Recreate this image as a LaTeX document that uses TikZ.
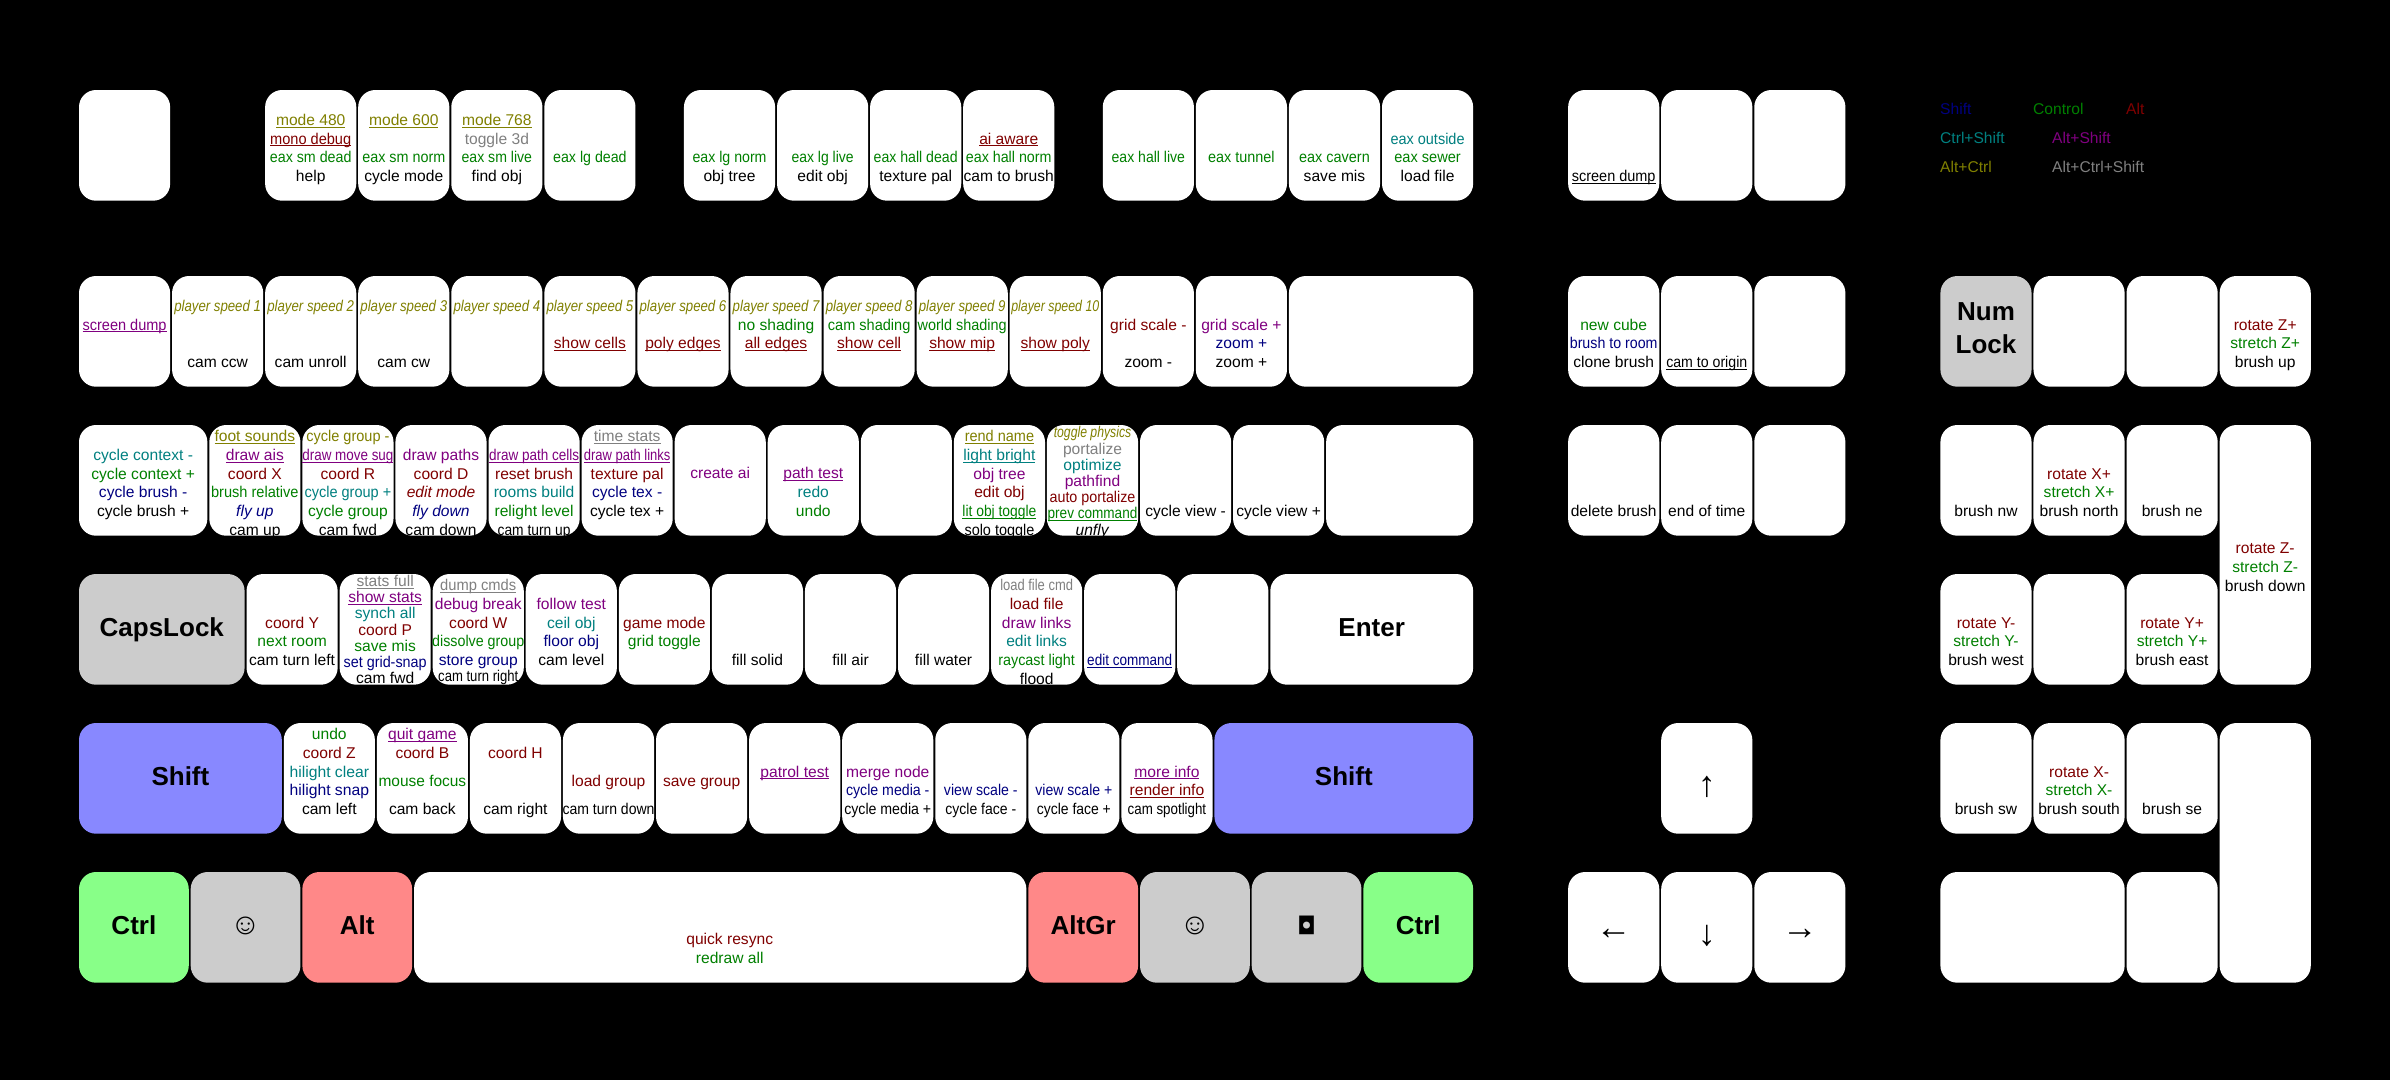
\documentclass[tikz,border=0pt]{standalone}
\usepackage{graphicx}
\usepackage{fontspec}
\setmainfont{Liberation Sans}
\newfontfamily\symfont{DejaVu Sans}
\usetikzlibrary{positioning}

\definecolor{keygray}{HTML}{CCCCCC}
\definecolor{keyblue}{HTML}{8888FF}
\definecolor{keygreen}{HTML}{88FF88}
\definecolor{keyred}{HTML}{FF8888}
\definecolor{navyc}{HTML}{000080}
\definecolor{greenc}{HTML}{008000}
\definecolor{maroonc}{HTML}{800000}
\definecolor{tealc}{HTML}{008080}
\definecolor{purplec}{HTML}{800080}
\definecolor{olivec}{HTML}{808000}
\definecolor{grayc}{HTML}{808080}

\newcommand{\sft}[1]{\textcolor{navyc}{#1}}
\newcommand{\ctl}[1]{\textcolor{greenc}{#1}}
\newcommand{\alt}[1]{\textcolor{maroonc}{#1}}
\newcommand{\cts}[1]{\textcolor{tealc}{#1}}
\newcommand{\als}[1]{\textcolor{purplec}{#1}}
\newcommand{\alc}[1]{\textcolor{olivec}{#1}}
\newcommand{\acs}[1]{\textcolor{grayc}{#1}}
\newcommand{\lnk}[1]{\underbar{#1}}
\newcommand{\tw}[2]{\resizebox{#1pt}{\height}{#2}}
\newcommand{\keyfont}{\fontsize{15.6}{18.7}\selectfont}
\newcommand{\bigfont}{\fontsize{26}{33}\selectfont\bfseries}
\newcommand{\arrowfont}{\fontsize{36}{36}\selectfont}
\newcommand{\smiley}{\fontsize{30}{33}\selectfont\mdseries ☺}
\newcommand{\menusym}{\fontsize{24}{33}\selectfont\mdseries\symfont ◘}
% first line centre, counted from the top of the key
\newcommand{\kt}[3][18.7pt]{\makebox[0pt]{\parbox[c][110.7pt][t]{130pt}{\fontsize{15.6}{#1}\selectfont\lineskiplimit=-100pt\centering\vspace*{\dimexpr#2pt-6.5pt\relax}\leavevmode\rule{0pt}{12pt}#3}}}

\begin{document}
\begin{tikzpicture}[
    x=1pt, y=-1pt,
    node distance=38.3pt and 1.93pt,
    key/.style={rectangle, fill=white, rounded corners=17pt, inner sep=0pt, outer sep=0pt, minimum height=110.7pt, minimum width=#1*93.07pt-1.93pt, align=center, font=\keyfont},
    key/.default=1,
    bigkey/.style={key=#1, font=\bigfont, text height=20pt, text depth=5.6pt},
    graykey/.style={bigkey=#1, fill=keygray},
    shiftkey/.style={bigkey=#1, fill=keyblue},
    ctrlkey/.style={bigkey=#1, fill=keygreen},
    altkey/.style={bigkey=#1, fill=keyred},
    arrowkey/.style={key, font=\arrowfont, text height=#1, text depth=7pt},
    rowstart/.style={anchor=north west},
    legend/.style={anchor=west, inner sep=0pt, font=\keyfont}
  ]
    \fill[black] (0,0) rectangle (2390,1080);
    \useasboundingbox (0,0) rectangle (2390,1080);

    % Function row
    \node[key, rowstart] (esc) at (79,90) {};
    \node[key, right=95pt of esc] (f1) {\kt{30}{\alc{\lnk{mode 480}}\\\alt{\lnk{\tw{81}{mono debug}}}\\\ctl{\tw{81.6}{eax sm dead}}\\help}};
    \node[key, right=of f1] (f2) {\kt{30}{\alc{\lnk{mode 600}}\\[18.7pt]\ctl{\tw{83}{eax sm norm}}\\cycle mode}};
    \node[key, right=of f2] (f3) {\kt{30}{\alc{\lnk{mode 768}}\\\acs{toggle 3d}\\\ctl{\tw{70.4}{eax sm live}}\\find obj}};
    \node[key, right=of f3] (f4) {\kt{67}{\ctl{\tw{73.5}{eax lg dead}}}};
    \node[key, right=48.47pt of f4] (f5) {\kt{67}{\ctl{\tw{74}{eax lg norm}}\\obj tree}};
    \node[key, right=of f5] (f6) {\kt{67}{\ctl{\tw{62}{eax lg live}}\\edit obj}};
    \node[key, right=of f6] (f7) {\kt{67}{\ctl{\tw{84}{eax hall dead}}\\texture pal}};
    \node[key, right=of f7] (f8) {\kt{48.7}{\alt{\lnk{ai aware}}\\\ctl{\tw{85.7}{eax hall norm}}\\cam to brush}};
    \node[key, right=48.47pt of f8] (f9) {\kt{67}{\ctl{\tw{73.4}{eax hall live}}}};
    \node[key, right=of f9] (f10) {\kt{67}{\ctl{\tw{66.4}{eax tunnel}}}};
    \node[key, right=of f10] (f11) {\kt{67}{\ctl{\tw{70.7}{eax cavern}}\\save mis}};
    \node[key, right=of f11] (f12) {\kt{48.7}{\cts{\tw{74}{eax outside}}\\\ctl{\tw{66.4}{eax sewer}}\\load file}};

    % Number row
    \node[key, below=75.3pt of esc] (tilde) {\kt{48.7}{\als{\lnk{\tw{84}{screen dump}}}}};
    \node[key, right=of tilde] (k1) {\kt{30}{\alc{\textit{\tw{86.7}{player speed 1}}}\\[37.4pt]cam ccw}};
    \node[key, right=of k1] (k2) {\kt{30}{\alc{\textit{\tw{86.7}{player speed 2}}}\\[37.4pt]cam unroll}};
    \node[key, right=of k2] (k3) {\kt{30}{\alc{\textit{\tw{86.7}{player speed 3}}}\\[37.4pt]cam cw}};
    \node[key, right=of k3] (k4) {\kt{30}{\alc{\textit{\tw{86.7}{player speed 4}}}}};
    \node[key, right=of k4] (k5) {\kt{30}{\alc{\textit{\tw{86.7}{player speed 5}}}\\[18.7pt]\alt{\lnk{show cells}}}};
    \node[key, right=of k5] (k6) {\kt{30}{\alc{\textit{\tw{86.7}{player speed 6}}}\\[18.7pt]\alt{\lnk{poly edges}}}};
    \node[key, right=of k6] (k7) {\kt{30}{\alc{\textit{\tw{86.7}{player speed 7}}}\\\ctl{no shading}\\\alt{\lnk{all edges}}}};
    \node[key, right=of k7] (k8) {\kt{30}{\alc{\textit{\tw{86.7}{player speed 8}}}\\\ctl{\tw{82.5}{cam shading}}\\\alt{\lnk{show cell}}}};
    \node[key, right=of k8] (k9) {\kt{30}{\alc{\textit{\tw{86.7}{player speed 9}}}\\\ctl{\tw{89}{world shading}}\\\alt{\lnk{show mip}}}};
    \node[key, right=of k9] (k0) {\kt{30}{\alc{\textit{\tw{88}{player speed 10}}}\\[18.7pt]\alt{\lnk{show poly}}}};
    \node[key, right=of k0] (minus) {\kt{48.7}{\alt{grid scale -}\\[18.7pt]zoom -}};
    \node[key, right=of minus] (equal) {\kt{48.7}{\als{grid scale +}\\\sft{zoom +}\\zoom +}};
    \node[key=2, right=of equal] (bksp) {};

    % QWERTY row
    \node[key=1.4, below=of tilde.south west, rowstart] (tab) {\kt{30}{\cts{cycle context -}\\\ctl{cycle context +}\\\sft{cycle brush -}\\cycle brush +}};
    \node[key, right=of tab] (kq) {\kt{11.3}{\alc{\lnk{foot sounds}}\\\als{\lnk{draw ais}}\\\alt{coord X}\\\ctl{\tw{87.5}{brush relative}}\\\sft{\textit{fly up}}\\cam up}};
    \node[key, right=of kq] (kw) {\kt{11.3}{\alc{\tw{83}{cycle group -}}\\\als{\lnk{\tw{91}{draw move sug}}}\\\alt{coord R}\\\cts{\tw{86.6}{cycle group +}}\\\ctl{cycle group}\\cam fwd}};
    \node[key, right=of kw] (ke) {\kt{30}{\als{draw paths}\\\alt{coord D}\\\alt{\textit{edit mode}}\\\sft{\textit{fly down}}\\cam down}};
    \node[key, right=of ke] (kr) {\kt{30}{\als{\lnk{\tw{90}{draw path cells}}}\\\alt{reset brush}\\\cts{rooms build}\\\ctl{relight level}\\\tw{72.8}{cam turn up}}};
    \node[key, right=of kr] (kt) {\kt{11.3}{\acs{\lnk{time stats}}\\\als{\lnk{\tw{86.6}{draw path links}}}\\\alt{texture pal}\\\sft{cycle tex -}\\cycle tex +}};
    \node[key, right=of kt] (ky) {\kt{48.3}{\als{create ai}}};
    \node[key, right=of ky] (ku) {\kt{48.3}{\als{\lnk{path test}}\\\cts{redo}\\\ctl{undo}}};
    \node[key, right=of ku] (ki) {};
    \node[key, right=of ki] (ko) {\kt{11.3}{\alc{\lnk{\tw{69.3}{rend name}}}\\\cts{\lnk{light bright}}\\\als{obj tree}\\\alt{edit obj}\\\ctl{\lnk{\tw{74}{lit obj toggle}}}\\\tw{69.8}{solo toggle}}};
    \node[key, right=of ko] (kp) {\kt[16.2pt]{7.3}{\alc{\textit{\tw{77.5}{toggle physics}}}\\\acs{portalize}\\\cts{optimize}\\\als{pathfind}\\\alt{\tw{85.8}{auto portalize}}\\\ctl{\lnk{\tw{89.7}{prev command}}}\\\textit{unfly}}};
    \node[key, right=of kp] (lbrk) {\kt{86}{cycle view -}};
    \node[key, right=of lbrk] (rbrk) {\kt{86}{cycle view +}};
    \node[key=1.6, right=of rbrk] (bslash) {};

    % Home row
    \node[graykey=1.8, below=of tab.south west, rowstart] (caps) {CapsLock};
    \node[key, right=of caps] (ka) {\kt{48.7}{\alt{coord Y}\\\ctl{next room}\\cam turn left}};
    \node[key, right=of ka] (ks) {\kt[16.2pt]{7}{\acs{\lnk{stats full}}\\\als{\lnk{show stats}}\\\cts{synch all}\\\alt{coord P}\\\ctl{save mis}\\\sft{\tw{83}{set grid-snap}}\\cam fwd}};
    \node[key, right=of ks] (kd) {\kt{11.3}{\acs{\lnk{\tw{76}{dump cmds}}}\\\als{debug break}\\\alt{coord W}\\\ctl{\tw{92}{dissolve group}}\\\sft{store group}\\[-2.7pt]\tw{80}{cam turn right}}};
    \node[key, right=of kd] (kf) {\kt{30}{\als{follow test}\\\cts{ceil obj}\\\sft{floor obj}\\cam level}};
    \node[key, right=of kf] (kg) {\kt{48.7}{\alt{game mode}\\\ctl{grid toggle}}};
    \node[key, right=of kg] (kh) {\kt{86}{fill solid}};
    \node[key, right=of kh] (kj) {\kt{86}{fill air}};
    \node[key, right=of kj] (kk) {\kt{86}{fill water}};
    \node[key, right=of kk] (kl) {\kt{11.3}{\acs{\tw{72.7}{load file cmd}}\\\alt{load file}\\\als{draw links}\\\cts{edit links}\\\ctl{\tw{76.6}{raycast light}}\\flood}};
    \node[key, right=of kl] (semi) {\kt{86}{\sft{\lnk{\tw{85}{edit command}}}}};
    \node[key, right=of semi] (quote) {};
    \node[bigkey=2.2, right=of quote] (enter) {Enter};

    % Bottom letter row
    \node[shiftkey=2.2, below=of caps.south west, rowstart] (lshift) {Shift};
    \node[key, right=of lshift] (kz) {\kt{11.3}{\ctl{undo}\\\alt{coord Z}\\\cts{\tw{79.5}{hilight clear}}\\\sft{\tw{79.5}{hilight snap}}\\cam left}};
    \node[key, right=of kz] (kx) {\kt{11.3}{\als{\lnk{quit game}}\\\alt{coord B}\\[9.3pt]\ctl{\tw{87.7}{mouse focus}}\\[9.3pt]cam back}};
    \node[key, right=of kx] (kc) {\kt{30}{\alt{coord H}\\[37.4pt]cam right}};
    \node[key, right=of kc] (kv) {\kt{58}{\alt{load group}\\[9.3pt]\tw{92}{cam turn down}}};
    \node[key, right=of kv] (kb) {\kt{58}{\alt{save group}}};
    \node[key, right=of kb] (kn) {\kt{48.7}{\als{\lnk{patrol test}}}};
    \node[key, right=of kn] (km) {\kt{48.7}{\als{merge node}\\\sft{\tw{83.4}{cycle media -}}\\\tw{87}{cycle media +}}};
    \node[key, right=of km] (comma) {\kt{67}{\sft{\tw{73.7}{view scale -}}\\\tw{70.8}{cycle face -}}};
    \node[key, right=of comma] (period) {\kt{67}{\sft{\tw{77}{view scale +}}\\\tw{74}{cycle face +}}};
    \node[key, right=of period] (slash) {\kt{48.7}{\als{\lnk{more info}}\\\alt{\lnk{render info}}\\\tw{78.5}{cam spotlight}}};
    \node[shiftkey=2.8, right=of slash] (rshift) {Shift};

    % Space row
    \node[ctrlkey=1.2, below=of lshift.south west, rowstart] (lctrl) {Ctrl};
    \node[graykey=1.2, right=of lctrl] (lwin) {\smiley};
    \node[altkey=1.2, right=of lwin] (lalt) {Alt};
    \node[key=6.6, right=of lalt] (space) {\kt{67.3}{\hspace*{19pt}\alt{quick resync}\\\hspace*{19pt}\ctl{redraw all}}};
    \node[altkey=1.2, right=of space] (altgr) {AltGr};
    \node[graykey=1.2, right=of altgr] (rwin) {\smiley};
    \node[graykey=1.2, right=of rwin] (menu) {\menusym};
    \node[ctrlkey=1.2, right=of menu] (rctrl) {Ctrl};

    % Navigation block
    \node[key, right=95pt of f12] (prtsc) {\kt{86}{\lnk{\tw{83.7}{screen dump}}}};
    \node[key, right=of prtsc] (scrl) {};
    \node[key, right=of scrl] (pause) {};
    \node[key, right=95pt of bksp] (ins) {\kt{48.7}{\ctl{new cube}\\\sft{\tw{87.7}{brush to room}}\\clone brush}};
    \node[key, right=of ins] (home) {\kt{86}{\lnk{\tw{81}{cam to origin}}}};
    \node[key, right=of home] (pgup) {};
    \node[key, below=of ins] (del) {\kt{86}{delete brush}};
    \node[key, right=of del] (endk) {\kt{86}{end of time}};
    \node[key, right=of endk] (pgdn) {};
    \node[arrowkey=43pt, below=187.3pt of endk] (aup) {↑};
    \node[arrowkey=43pt, below=of aup] (adown) {↓};
    \node[arrowkey=31pt, left=of adown] (aleft) {←};
    \node[arrowkey=31pt, right=of adown] (aright) {→};

    % Number pad
    \node[key, fill=keygray, right=95pt of pgup] (numlk) {\kt{33.3}{\bigfont Num\\Lock}};
    \node[key, right=of numlk] (ndiv) {};
    \node[key, right=of ndiv] (nmul) {};
    \node[key, right=of nmul] (nsub) {\kt{48.7}{\alt{rotate Z+}\\\ctl{stretch Z+}\\brush up}};
    \node[key, below=of numlk] (n7) {\kt{86}{brush nw}};
    \node[key, right=of n7] (n8) {\kt{48.7}{\alt{rotate X+}\\\ctl{stretch X+}\\brush north}};
    \node[key, right=of n8] (n9) {\kt{86}{brush ne}};
    \node[key, minimum height=259.7pt, right=of n9.north east, rowstart] (nadd) {\kt{48.7}{\alt{rotate Z-}\\\ctl{stretch Z-}\\brush down}};
    \node[key, below=of n7] (n4) {\kt{48.7}{\alt{rotate Y-}\\\ctl{stretch Y-}\\brush west}};
    \node[key, right=of n4] (n5) {};
    \node[key, right=of n5] (n6) {\kt{48.7}{\alt{rotate Y+}\\\ctl{stretch Y+}\\brush east}};
    \node[key, below=of n4] (n1) {\kt{86}{brush sw}};
    \node[key, right=of n1] (n2) {\kt{48.7}{\alt{rotate X-}\\\ctl{stretch X-}\\brush south}};
    \node[key, right=of n2] (n3) {\kt{86}{brush se}};
    \node[key, minimum height=259.7pt, right=of n3.north east, rowstart] (nent) {};
    \node[key=2, below=of n1.south west, rowstart] (n0) {};
    \node[key, right=of n0] (ndot) {};

    % Legend
    \node[legend, text=navyc] (lgshift) at (1940,109) {Shift};
    \node[legend, text=greenc] (lgctrl) at (2033,109) {Control};
    \node[legend, text=maroonc] (lgalt) at (2126,109) {Alt};
    \node[legend, text=tealc] (lgcs) at (1940,138) {Ctrl+Shift};
    \node[legend, text=purplec] (lgas) at (2052,138) {Alt+Shift};
    \node[legend, text=olivec] (lgac) at (1940,167) {Alt+Ctrl};
    \node[legend, text=grayc] (lgacs) at (2052,167) {Alt+Ctrl+Shift};
  \end{tikzpicture}
\end{document}
